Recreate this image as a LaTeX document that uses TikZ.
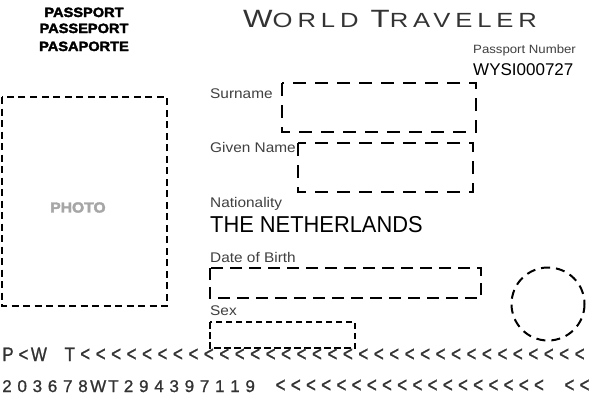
\documentclass[tikz,border=0pt]{standalone}
\usepackage{fontspec}
\setmainfont{Liberation Sans}
\newfontfamily\labelfont[FakeStretch=1.1]{Liberation Sans}
\newfontfamily\hdrfont[FakeStretch=1.08,FakeBold=2.5]{Liberation Sans Bold}
\newfontfamily\titlefont[FakeStretch=1.25,LetterSpace=24]{Liberation Sans}
\newfontfamily\mrzfont[FakeBold=1]{Liberation Sans}
\usetikzlibrary{positioning,calc}

\begin{document}
\begin{tikzpicture}[x=1pt,y=-1pt,
  lbl/.style={anchor=base west,inner sep=0pt,text=black!75,font=\labelfont\fontsize{14}{16}\selectfont},
  hdr/.style={anchor=base,inner sep=0pt,font=\hdrfont\fontsize{13.5}{15}\selectfont},
  field/.style={line width=2.4pt,dash pattern=on 13pt off 9pt},
  mrz/.style={anchor=base,inner sep=0pt,text=black!80,font=\mrzfont\fontsize{17}{19}\selectfont}]
\useasboundingbox (0,0) rectangle (600,400);
\fill[white] (0,0) rectangle (600,400);
% header
\node (hdr1) [hdr] at (84,17) {PASSPORT};
\node (hdr2) [hdr] at (84,33) {PASSEPORT};
\node (hdr3) [hdr] at (84,51) {PASAPORTE};
\node (title) [anchor=base west,inner sep=0pt,text=black!80,font=\titlefont] at (243,27)
  {\fontsize{25}{28}\selectfont W\fontsize{20.5}{24}\selectfont ORLD \fontsize{25}{28}\selectfont T\fontsize{20.5}{24}\selectfont RAVELER};
\node (pnum) [lbl,font=\labelfont\fontsize{12}{14}\selectfont] at (473,53) {Passport Number};
\node (pnumval) [anchor=base west,inner sep=0pt,font=\fontsize{17}{20}\selectfont] at (473,75) {WYSI000727};
% photo
\draw[line width=2pt,dash pattern=on 7pt off 4.5pt] (2,97) rectangle (167,306);
\node (photo) [inner sep=0pt,text=black!35,font=\hdrfont\fontsize{14.5}{17}\selectfont] at (78,207.5) {PHOTO};
% fields
\node (surname) [lbl] at (210,98) {Surname};
\draw[field] (282,83) rectangle (476,132);
\node (given) [lbl] at (210,152) {Given Name};
\draw[field] (298,143) rectangle (473,192);
\node (nation) [lbl] at (210,207) {Nationality};
\node (nationval) [anchor=base west,inner sep=0pt,font=\fontsize{23}{27}\selectfont] at (210,232) {\scalebox{0.95}[1]{THE NETHERLANDS}};
\node (birth) [lbl] at (210,262) {Date of Birth};
\draw[field,dash pattern=on 12pt off 7pt] (210,268) rectangle (481,298);
\node (sex) [lbl] at (210,315) {Sex};
\draw[line width=2pt,dash pattern=on 6.5pt off 3.5pt] (210,322) rectangle (355,348);
\draw[line width=2pt,dash pattern=on 9pt off 6pt] (548,304) circle (36.5);
% machine readable lines
\foreach \c/\i in {P/0,</1,W/2,T/4}
  \node (a\i) [mrz] at ({8+15.45*\i},361) {\scalebox{1}[1.15]{\c}};
\foreach \i in {5,...,37}
  \node (a\i) [mrz] at ({8+15.45*\i},361) {\scalebox{1}[1.25]{<}};
\foreach \c [count=\i from 0] in {2,0,3,6,7,8,W,T,2,9,4,3,9,7,1,1,9}
  \node (b\i) [mrz] at ({7+15.2*\i},392) {\c};
\foreach \i in {18,...,35,37,38}
  \node (b\i) [mrz] at ({7+15.2*\i},392) {\scalebox{1}[1.25]{<}};
\end{tikzpicture}
\end{document}
